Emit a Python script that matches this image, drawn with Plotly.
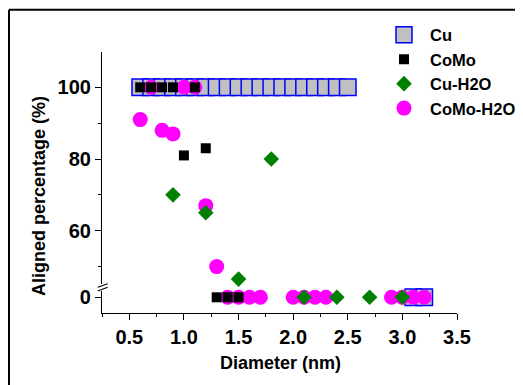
import plotly.graph_objects as go

# ---------------- data ----------------
cu_x = [0.6, 0.7, 0.8, 0.9, 1.0, 1.1, 1.2, 1.3, 1.4, 1.5, 1.6, 1.7, 1.8, 1.9, 2.0,
        2.1, 2.2, 2.3, 2.4, 2.5, 3.1, 3.2]
cu_y = [100, 100, 100, 100, 100, 100, 100, 100, 100, 100, 100, 100, 100, 100, 100,
        100, 100, 100, 100, 100, 0, 0]

como_x = [0.6, 0.7, 0.8, 0.9, 1.1, 1.0, 1.2, 1.3, 1.4, 1.5]
como_y = [100, 100, 100, 100, 100, 81, 83, 0, 0, 0]

cuh2o_x = [0.9, 1.2, 1.5, 1.8, 2.1, 2.4, 2.7, 3.0]
cuh2o_y = [70, 65, 46.5, 80, 0, 0, 0, 0]

comoh2o_x = [0.6, 0.7, 0.8, 0.9, 1.0, 1.1, 1.2, 1.3,
             1.4, 1.5, 1.6, 1.7, 2.0, 2.1, 2.2, 2.3, 2.9, 3.0, 3.1, 3.2]
comoh2o_y = [91, 100, 88, 87, 100, 100, 67, 50,
             0, 0, 0, 0, 0, 0, 0, 0, 0, 0, 0, 0]

x_ticks = [0.5, 1.0, 1.5, 2.0, 2.5, 3.0, 3.5]
y_upper_ticks = [60, 80, 100]
y_upper_minor = [50, 70, 90]
y_lower_ticks = [0]

FONT = "Liberation Sans, Arial, sans-serif"

fig = go.Figure()

BREAK = 20  # values below go on the lower (zero) axis segment


def add_series(name, xs, ys, marker, rank):
    lo_x = [x for x, y in zip(xs, ys) if y < BREAK]
    lo_y = [y for y in ys if y < BREAK]
    hi_x = [x for x, y in zip(xs, ys) if y >= BREAK]
    hi_y = [y for y in ys if y >= BREAK]
    fig.add_trace(go.Scatter(x=hi_x, y=hi_y, mode="markers", name=name, marker=marker,
                             xaxis="x", yaxis="y2", legendgroup=name, showlegend=True,
                             legendrank=rank, cliponaxis=False))
    fig.add_trace(go.Scatter(x=lo_x, y=lo_y, mode="markers", name=name, marker=marker,
                             xaxis="x", yaxis="y", legendgroup=name, showlegend=False,
                             legendrank=rank, cliponaxis=False))


add_series("Cu", cu_x, cu_y,
           dict(symbol="square", size=16.5, color="#c0c0c0",
                line=dict(color="#0000ff", width=1.5)), 1)
add_series("CoMo-H2O", comoh2o_x, comoh2o_y,
           dict(symbol="circle", size=15, color="#ff00ff", line=dict(width=0)), 4)
add_series("Cu-H2O", cuh2o_x, cuh2o_y,
           dict(symbol="diamond", size=12, color="#008000", line=dict(width=0)), 3)
add_series("CoMo", como_x, como_y,
           dict(symbol="square", size=10, color="#000000", line=dict(width=0)), 2)

# ---------------- layout ----------------
OFF = 8  # page body margin offset
L, R, T, B = 102, 457, 52, 313   # plot area in screenshot pixels
W, H = R - L, B - T


def px_x(p):
    return (p - L) / W


def px_y(p):
    return (B - p) / H


tickfont = dict(family=FONT, size=20, color="black", weight="bold")
axis_common = dict(showline=True, linecolor="black", linewidth=1.2, ticks="outside",
                   tickcolor="black", tickwidth=1.2, ticklen=6, showgrid=False,
                   zeroline=False, tickfont=tickfont, automargin=False)

fig.update_layout(
    width=523 - OFF, height=385 - OFF,
    margin=dict(l=L - OFF, r=523 - R, t=T - OFF, b=385 - B, autoexpand=False),
    paper_bgcolor="white", plot_bgcolor="white",
    font=dict(family=FONT, color="black"),
    showlegend=True,
    xaxis=dict(range=[0.25, 3.5], tickvals=x_ticks, tickformat=".1f",
               minor=dict(tick0=0.25, dtick=0.25, ticks="outside", ticklen=3,
                          tickcolor="black", tickwidth=1.2),
               anchor="y", **axis_common),
    yaxis=dict(domain=[0, px_y(291)], range=[-4.38, 1.76], tickvals=y_lower_ticks,
               anchor="x", **axis_common),
    yaxis2=dict(domain=[px_y(284), 1], range=[45.14, 109.85], tickvals=y_upper_ticks,
                minor=dict(tickvals=y_upper_minor, ticks="outside", ticklen=3,
                           tickcolor="black", tickwidth=1.2),
                anchor="x", **axis_common),
    legend=dict(x=px_x(378), y=px_y(17.5), xanchor="left", yanchor="top",
                font=dict(family=FONT, size=16.5, color="black", weight="bold"),
                bgcolor="rgba(0,0,0,0)", borderwidth=0, itemwidth=42,
                tracegroupgap=0, traceorder="normal"),
)

# axis titles
fig.add_annotation(text="Diameter (nm)", xref="paper", yref="paper",
                   x=px_x(280), y=px_y(362.7), xanchor="center", yanchor="middle",
                   showarrow=False,
                   font=dict(family=FONT, size=18, color="black", weight="bold"))
fig.add_annotation(text="Aligned percentage (%)", xref="paper", yref="paper",
                   x=px_x(39.3), y=px_y(195.8), xanchor="center", yanchor="middle",
                   textangle=-90, showarrow=False,
                   font=dict(family=FONT, size=18, color="black", weight="bold"))

# axis break marks
for (x0, y0, x1, y1) in [(97.7, 287.3, 107.7, 283.7), (97.7, 291.0, 107.7, 287.3)]:
    fig.add_shape(type="line", xref="paper", yref="paper",
                  x0=px_x(x0), y0=px_y(y0), x1=px_x(x1), y1=px_y(y1),
                  line=dict(color="black", width=1.2))

# outer frame (left and top edges visible)
fx, fy = px_x(9), px_y(9.7)
fig.add_shape(type="line", xref="paper", yref="paper", x0=fx, y0=px_y(400), x1=fx, y1=fy,
              line=dict(color="black", width=2))
fig.add_shape(type="line", xref="paper", yref="paper", x0=fx, y0=fy, x1=px_x(540), y1=fy,
              line=dict(color="black", width=2))

fig.write_html("out.html")
